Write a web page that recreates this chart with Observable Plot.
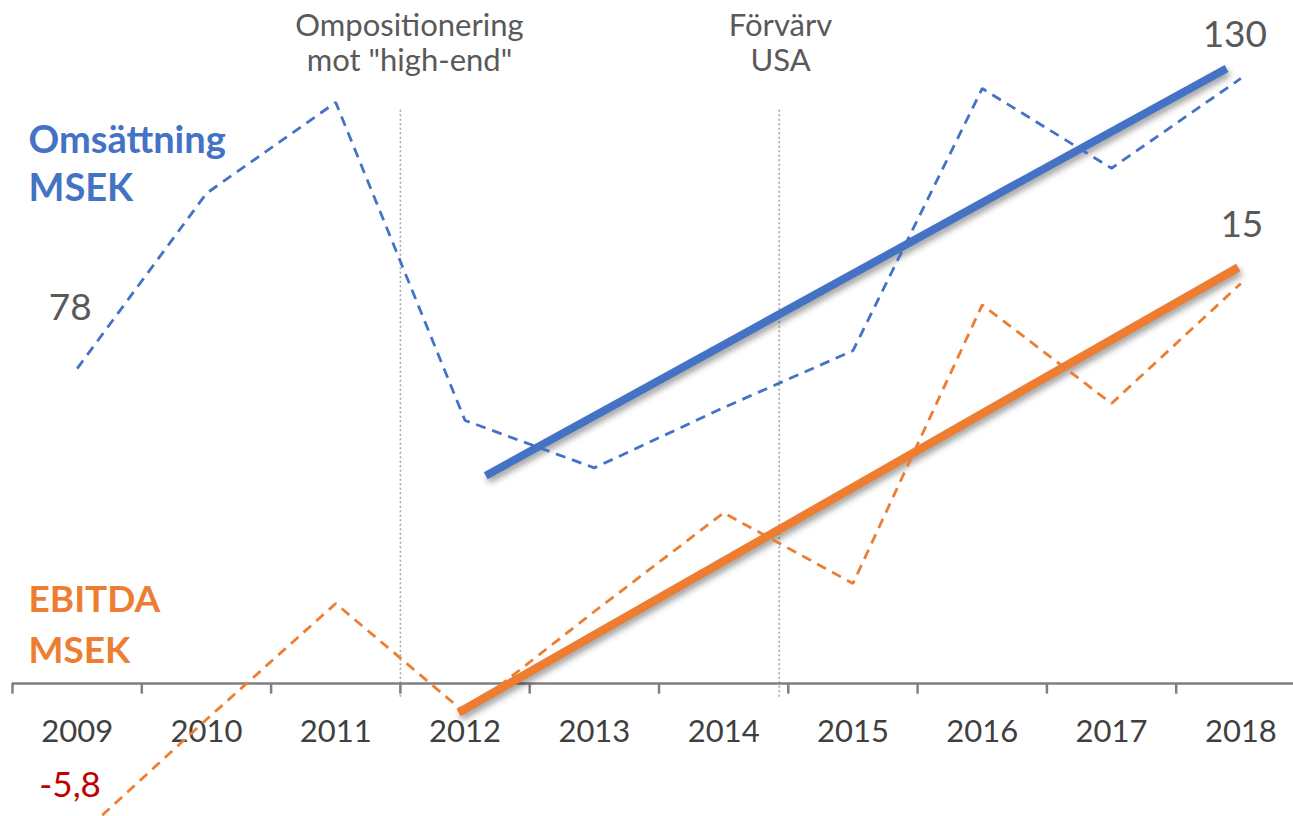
<!DOCTYPE html>
<html>
<head>
<meta charset="utf-8">
<script src="https://cdn.jsdelivr.net/npm/d3@7"></script>
<script src="https://cdn.jsdelivr.net/npm/@observablehq/plot@0.6"></script>
<style>
  html, body { margin: 0; padding: 0; background: #fff; overflow: hidden; }
  svg { overflow: hidden; }
</style>
</head>
<body>
<div id="chart"></div>
<script>
// ---- data ----
const years = [2009, 2010, 2011, 2012, 2013, 2014, 2015, 2016, 2017, 2018];
const omsattning = [78, 109.4, 125.7, 68.7, 60.2, 71.0, 81.2, 128.2, 113.9, 130];   // MSEK
const ebitda = [-5.8, -1.35, 3.0, -1.1, 2.7, 6.4, 3.75, 14.2, 10.5, 15];          // MSEK

const trendOmsYears = [2012.16, 2017.89];
const trendOmsValues = [58.8, 131.8];
const trendEbYears = [2011.95, 2017.98];
const trendEbValues = [-1.09, 15.6];

const tickBoundaries = [2008.5, 2009.5, 2010.5, 2011.5, 2012.5, 2013.5, 2014.5, 2015.5, 2016.5, 2017.5];
const eventYears = [2011.5, 2014.43];
const eventLabelYears = [2011.57, 2014.44];
const eventLabels = ["Ompositionering\nmot \"high-end\"", "Förvärv\nUSA"];
const eventRuleTop = 21.5;     // in EBITDA-axis units
const eventRuleBottom = -0.55;

// secondary axis: Omsättning mapped onto the (hidden) EBITDA axis
const omsAxis = d3.scaleLinear().domain([78, 130]).range([11.81, 22.69]);

const blue = "#4472C4";
const orange = "#ED7D31";
const grey = "#595959";

const omsData = years.map((y, i) => ({year: y, v: omsAxis(omsattning[i])}));
const ebData = years.map((y, i) => ({year: y, v: ebitda[i]}));
const omsTrend = trendOmsYears.map((y, i) => ({year: y, v: omsAxis(trendOmsValues[i])}));
const ebTrend = trendEbYears.map((y, i) => ({year: y, v: trendEbValues[i]}));

const first = 0, last = years.length - 1;

const chart = Plot.plot({
  width: 1293,
  height: 816,
  margin: 0,
  style: {fontFamily: "Lato, 'Open Sans', sans-serif", background: "#fff"},
  x: {type: "linear", domain: [2008.5, 2018.5], range: [12, 1305], axis: null},
  y: {domain: [0, 15], range: [683, 283], axis: null},
  marks: [
    // event dotted rules
    Plot.ruleX(eventYears, {x: d => d, y1: eventRuleTop, y2: eventRuleBottom,
      stroke: "#a6a6a6", strokeWidth: 1.6, strokeDasharray: "2,2.5"}),
    // x axis line + category boundary ticks
    Plot.ruleY([0], {x1: 2008.5, x2: 2018.5, stroke: "#7f7f7f", strokeWidth: 2.5}),
    Plot.ruleX(tickBoundaries, {x: d => d, y1: 0, y2: -0.4, stroke: "#7f7f7f", strokeWidth: 2.5}),
    // year labels
    Plot.text(years, {x: d => d, y: 0, text: d => String(d), lineAnchor: "top", dy: 36,
      fontSize: 31, fill: "#404040"}),
    // trend lines
    Plot.line(omsTrend, {x: "year", y: "v", stroke: blue, strokeWidth: 8,
      strokeLinecap: "butt"}),
    Plot.line(ebTrend, {x: "year", y: "v", stroke: orange, strokeWidth: 8.5,
      strokeLinecap: "butt"}),
    // dashed actual series
    Plot.line(omsData, {x: "year", y: "v", stroke: blue, strokeWidth: 2.8,
      strokeDasharray: "10,7", strokeLinecap: "butt", strokeLinejoin: "miter"}),
    Plot.line(ebData, {x: "year", y: "v", stroke: orange, strokeWidth: 2.8,
      strokeDasharray: "10,7", strokeLinecap: "butt", strokeLinejoin: "miter"}),
    // value labels
    Plot.text([omsData[first]], {x: "year", y: "v", text: () => String(omsattning[first]),
      dx: -7, dy: -60, fontSize: 37, fill: grey}),
    Plot.text([omsData[last]], {x: "year", y: "v", text: () => String(omsattning[last]),
      dx: -6, dy: -43, fontSize: 37, fill: grey}),
    Plot.text([ebData[last]], {x: "year", y: "v", text: () => String(ebitda[last]),
      dx: 1, dy: -58, fontSize: 37, fill: grey}),
    Plot.text([ebData[first]], {x: "year", y: "v", text: () => String(ebitda[first]).replace(".", ","),
      dx: -7, dy: -52, fontSize: 35, fill: "#C00000"}),
    // series names
    Plot.text(["Omsättning\nMSEK"], {frameAnchor: "top-left", textAnchor: "start", lineAnchor: "top",
      dx: 28, dy: 118, fontSize: 38, fontWeight: "bold", fill: blue, lineHeight: 1.27}),
    Plot.text(["EBITDA\nMSEK"], {frameAnchor: "top-left", textAnchor: "start", lineAnchor: "top",
      dx: 28, dy: 576, fontSize: 37, fontWeight: "bold", fill: orange, lineHeight: 1.36}),
    // event annotations
    Plot.text(eventLabels, {x: (d, i) => eventLabelYears[i], frameAnchor: "top", lineAnchor: "top",
      dy: 11, fontSize: 31, fill: grey, lineHeight: 1.13})
  ]
});
// soft drop shadow on the two thick trend lines
d3.select(chart).selectAll("g[stroke-width='8'], g[stroke-width='8.5']")
  .style("filter", "drop-shadow(2px 4px 3px rgba(0,0,0,0.38))");
document.getElementById("chart").appendChild(chart);
</script>
</body>
</html>
